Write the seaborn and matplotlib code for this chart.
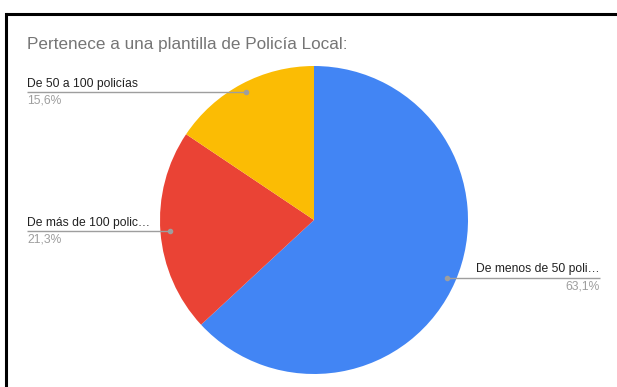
import numpy as np
import matplotlib
matplotlib.use("Agg")
import matplotlib.pyplot as plt
from matplotlib.lines import Line2D
import seaborn as sns

# Survey responses: size of the local police force
categories = ["De menos de 50 poli…", "De más de 100 polic…", "De 50 a 100 policías"]
shares = [63.1, 21.3, 15.6]
share_labels = ["63,1%", "21,3%", "15,6%"]
colors = ["#4285f4", "#ea4335", "#fbbc04"]
title = "Pertenece a una plantilla de Policía Local:"

sns.set_theme(style="white")
plt.rcParams["font.family"] = ["Liberation Sans", "DejaVu Sans"]

W, H = 617, 387
fig = plt.figure(figsize=(W / 100, H / 100), dpi=100)
fig.patch.set_facecolor("white")

# Pie geometry in pixels
cx, cy, r = 314, 220, 154
ax = fig.add_axes([(cx - r) / W, 1 - (cy + r) / H, 2 * r / W, 2 * r / H])
ax.axis("off")

wedges, _ = ax.pie(shares, colors=colors, startangle=90, counterclock=False,
                   radius=1.0, center=(0, 0), frame=False,
                   wedgeprops=dict(linewidth=0))
ax.set_xlim(-1, 1)
ax.set_ylim(-1, 1)
ax.set_aspect("equal")

def px_to_data(x):
    return (x - cx) / r

label_color = "#222222"
pct_color = "#9e9e9e"
line_color = "#9e9e9e"
left_x = px_to_data(27)
right_x = px_to_data(600)

for w, name, pct in zip(wedges, categories, share_labels):
    mid = np.deg2rad((w.theta1 + w.theta2) / 2)
    dx, dy = 0.94 * np.cos(mid), 0.94 * np.sin(mid)
    if dx < 0:
        x0, x1, tx, ha = left_x, dx, left_x, "left"
    else:
        x0, x1, tx, ha = dx, right_x, right_x, "right"
    ax.plot([x0, x1], [dy, dy], color=line_color, lw=1.0, clip_on=False,
            solid_capstyle="butt")
    ax.plot([dx], [dy], "o", color=line_color, ms=3, clip_on=False)
    ax.text(tx, dy + 2.5 / r, name, ha=ha, va="bottom", fontsize=8.7,
            color=label_color)
    ax.text(tx, dy - 2.5 / r, pct, ha=ha, va="top", fontsize=8.7,
            color=pct_color)

fig.text(27 / W, 1 - 45 / H, title, ha="left", va="center", fontsize=12.3,
         color="#757575")

# Black frame (top and left edges) around the chart
fx, fy = 6 / W, 1 - 14 / H
fig.add_artist(Line2D([fx, 1.0], [fy, fy], transform=fig.transFigure,
                      color="black", lw=2.2, solid_capstyle="butt"))
fig.add_artist(Line2D([fx, fx], [0.0, fy], transform=fig.transFigure,
                      color="black", lw=2.2, solid_capstyle="projecting"))

fig.savefig("out.png", dpi=100)
